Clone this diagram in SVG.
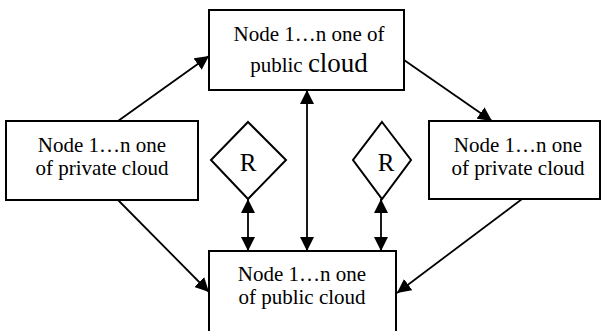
<svg xmlns="http://www.w3.org/2000/svg" width="605" height="331" viewBox="0 0 605 331">
<defs>
<style>
.box{fill:#fff;stroke:#000;stroke-width:2}
.t{font-family:"Liberation Serif","Times New Roman",serif;font-size:21px;fill:#000;text-anchor:middle}
.r{font-family:"Liberation Serif","Times New Roman",serif;font-size:25px;fill:#000;text-anchor:middle}
.c{fill:none;stroke:#000;stroke-width:1.8}
</style>
<marker id="ah" markerUnits="userSpaceOnUse" markerWidth="14" markerHeight="14" viewBox="0 0 14 14" refX="14" refY="7" orient="auto-start-reverse">
<path d="M0,0 L14,7 L0,14 z" fill="#000"/>
</marker>
</defs>
<rect width="605" height="331" fill="#fff"/>
<g id="connectors">
<line class="c" x1="118" y1="121" x2="209" y2="56" marker-end="url(#ah)"/>
<line class="c" x1="404" y1="60" x2="492" y2="121" marker-end="url(#ah)"/>
<line class="c" x1="307" y1="90" x2="307" y2="251" marker-start="url(#ah)" marker-end="url(#ah)"/>
<line class="c" x1="248" y1="199" x2="248" y2="251" marker-start="url(#ah)" marker-end="url(#ah)"/>
<line class="c" x1="381" y1="199" x2="381" y2="251" marker-start="url(#ah)" marker-end="url(#ah)"/>
<line class="c" x1="118" y1="200" x2="209" y2="292" marker-end="url(#ah)"/>
<line class="c" x1="522" y1="199" x2="397" y2="293" marker-end="url(#ah)"/>
</g>
<g id="top">
<rect class="box" x="209" y="10" width="195" height="80"/>
<text class="t" x="309" y="41">Node 1…n one of</text>
<text class="t" x="309" y="72">public <tspan font-size="27px">cloud</tspan></text>
</g>
<g id="left">
<rect class="box" x="6" y="121" width="192" height="79"/>
<text class="t" x="102" y="152">Node 1…n one</text>
<text class="t" x="102" y="175">of private cloud</text>
</g>
<g id="right">
<rect class="box" x="429" y="121" width="171" height="78"/>
<text class="t" x="518" y="152">Node 1…n one</text>
<text class="t" x="518" y="175">of private cloud</text>
</g>
<g id="bottom">
<rect class="box" x="209" y="251" width="187" height="95"/>
<text class="t" x="302" y="281">Node 1…n one</text>
<text class="t" x="302" y="304">of public cloud</text>
</g>
<g id="r1">
<polygon class="box" points="248,122 286,160 248,199 211,160"/>
<text class="r" x="248" y="171">R</text>
</g>
<g id="r2">
<polygon class="box" points="382,122 411,160 382,199 353,160"/>
<text class="r" x="386" y="171">R</text>
</g>
</svg>
